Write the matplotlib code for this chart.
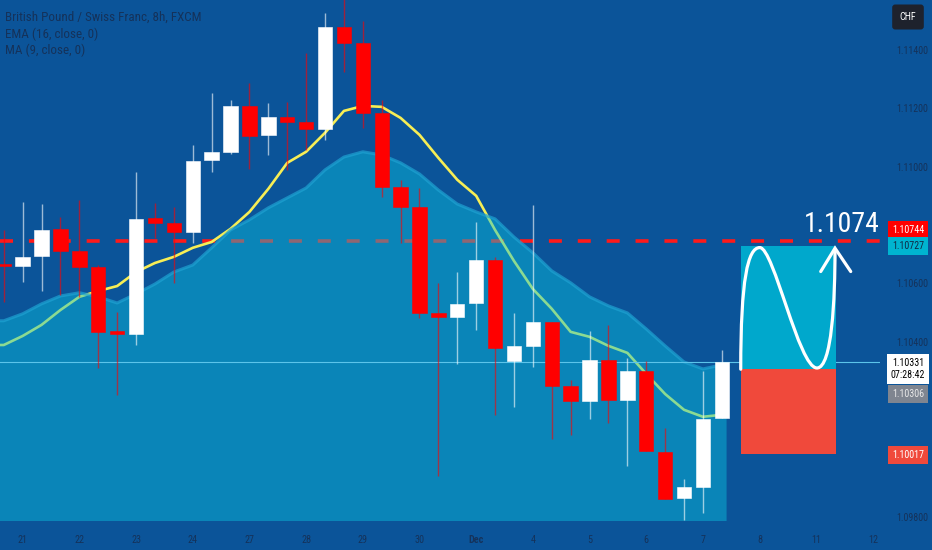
import numpy as np
import matplotlib.pyplot as plt
import matplotlib.font_manager as fm
from matplotlib.patches import Rectangle, PathPatch
from matplotlib.path import Path

# GBP/CHF 8h candles
opens = [1.10667, 1.10660, 1.10694, 1.10787, 1.10711, 1.10657, 1.10437, 1.10427, 1.10824, 1.10807,
         1.10776, 1.11023, 1.11051, 1.11208, 1.11109, 1.11170, 1.11153, 1.11129, 1.11479, 1.11424,
         1.11184, 1.10931, 1.10862, 1.10499, 1.10485, 1.10533, 1.10681, 1.10335, 1.10386, 1.10468,
         1.10249, 1.10197, 1.10338, 1.10201, 1.10300, 1.10023, 1.09865, 1.09903, 1.10139]
highs = [1.10783, 1.10879, 1.10872, 1.10828, 1.10886, 1.10663, 1.10502, 1.10982, 1.10876, 1.10862,
         1.11075, 1.11253, 1.11229, 1.11287, 1.11218, 1.11222, 1.11390, 1.11527, 1.11610, 1.11499,
         1.11229, 1.10955, 1.10927, 1.10602, 1.10639, 1.10811, 1.10691, 1.10499, 1.10869, 1.10468,
         1.10269, 1.10437, 1.10458, 1.10345, 1.10335, 1.10105, 1.09930, 1.10300, 1.10372]
lows = [1.10537, 1.10605, 1.10574, 1.10561, 1.10554, 1.10311, 1.10218, 1.10389, 1.10756, 1.10602,
        1.10739, 1.10982, 1.11044, 1.10992, 1.11040, 1.10989, 1.11057, 1.11092, 1.11325, 1.11133,
        1.10896, 1.10739, 1.10482, 1.09941, 1.10324, 1.10441, 1.10150, 1.10177, 1.10314, 1.10067,
        1.10081, 1.10136, 1.10122, 1.09975, 1.10026, 1.09862, 1.09790, 1.09814, 1.10139]
closes = [1.10660, 1.10691, 1.10783, 1.10711, 1.10657, 1.10434, 1.10427, 1.10821, 1.10807, 1.10776,
          1.11020, 1.11051, 1.11208, 1.11105, 1.11170, 1.11153, 1.11129, 1.11479, 1.11424, 1.11184,
          1.10931, 1.10862, 1.10499, 1.10485, 1.10530, 1.10681, 1.10379, 1.10386, 1.10468, 1.10249,
          1.10197, 1.10338, 1.10201, 1.10300, 1.10026, 1.09862, 1.09903, 1.10136, 1.10331]

ema16 = [1.10389, 1.10420, 1.10458, 1.10509, 1.10554, 1.10574, 1.10591, 1.10639, 1.10670, 1.10691,
         1.10722, 1.10742, 1.10787, 1.10845, 1.10924, 1.11013, 1.11051, 1.11116, 1.11191, 1.11208,
         1.11205, 1.11167, 1.11109, 1.11030, 1.10955, 1.10900, 1.10783, 1.10677, 1.10581, 1.10513,
         1.10434, 1.10417, 1.10386, 1.10362, 1.10290, 1.10221, 1.10167, 1.10143, 1.10150]
ma9 = [1.10472, 1.10496, 1.10530, 1.10557, 1.10568, 1.10554, 1.10533, 1.10564, 1.10598, 1.10639,
       1.10663, 1.10722, 1.10783, 1.10818, 1.10859, 1.10893, 1.10927, 1.10989, 1.11033, 1.11051,
       1.11040, 1.11013, 1.10975, 1.10920, 1.10872, 1.10845, 1.10821, 1.10759, 1.10705, 1.10643,
       1.10602, 1.10554, 1.10523, 1.10499, 1.10444, 1.10386, 1.10331, 1.10307, 1.10321]

day_pos = [1, 4, 7, 10, 13, 16, 19, 22, 25, 28, 31, 34, 37, 40, 43, 46]
day_labels = ['21', '22', '23', '24', '27', '28', '29', '30', 'Dec', '4', '5', '6', '7', '8', '11', '12']
# 1.100 / 1.102 / 1.108 sit behind the coloured price tags
price_ticks = [1.098, 1.104, 1.106, 1.110, 1.112, 1.114]

resistance = 1.10744
entry = 1.10306
target = 1.10727
stop = 1.10017
last_price = 1.10331

BG = '#0b5499'
AXIS_TXT = '#15325a'


# look for a narrow sans, the chart uses a condensed face
def find_narrow(bold=False):
    prefs = ['Roboto Condensed', 'Liberation Sans Narrow', 'Noto Sans Condensed',
             'Open Sans Condensed', 'DejaVu Sans Condensed', 'Noto Sans SemiCondensed']
    cands = []
    for f in fm.fontManager.ttflist:
        w = f.weight if isinstance(f.weight, int) else (700 if 'bold' in str(f.weight) else 400)
        if f.style != 'normal' or (w >= 600) != bold or w < 350 or w > 750:
            continue
        narrow = ('Condensed' in f.name or 'Narrow' in f.name or
                  str(f.stretch) in ('condensed', 'semi-condensed'))
        if narrow and 'Extra' not in f.name and 'Extra' not in f.fname:
            rank = prefs.index(f.name) if f.name in prefs else len(prefs)
            cands.append((rank, f.fname))
    if cands:
        return fm.FontProperties(fname=sorted(cands)[0][1])
    return fm.FontProperties(family='Liberation Sans', weight='bold' if bold else 'normal')


NARROW = find_narrow()
NARROW_B = find_narrow(bold=True)


def fp(size, bold=False):
    p = (NARROW_B if bold else NARROW).copy()
    p.set_size(size)
    return p


fig = plt.figure(figsize=(9.32, 5.5), dpi=100, facecolor=BG)
ax = fig.add_axes([0, 29 / 550, 880 / 932, 521 / 550], facecolor=BG)
x0, x1 = -0.2, 46.37
ax.set_xlim(x0, x1)
ax.set_ylim(1.09786, 1.11571)

idx = np.arange(len(opens))
o, h, l, c = map(np.array, (opens, highs, lows, closes))
up = c >= o

# resistance level
ax.axhline(resistance, color='#ff1a1a', lw=2.6, dashes=(3.6, 4.4), zorder=1)

# EMA line, then the MA area drawn over it
xe = np.r_[x0, idx]
ax.plot(xe, np.r_[ema16[0], ema16], color='#f7ee55', lw=1.9, zorder=2)
xa = np.r_[x0, idx, idx[-1] + 0.25]
ya = np.r_[ma9[0], ma9, ma9[-1]]
ax.fill_between(xa, ya, 1.0, color='#09c3de', alpha=0.45, lw=0, zorder=3)
ax.plot(xa, ya, color='#1fa2d2', lw=2.2, alpha=0.7, zorder=3)

# last price line
ax.axhline(last_price, color='#5cc4ea', lw=0.8, zorder=4)

# candles
cols = np.where(up, '#ffffff', '#ff0000')
ax.vlines(idx, l, h, colors=cols, lw=1.0, alpha=0.6, zorder=5)
body_lo = np.minimum(o, c)
body_h = np.maximum(np.abs(c - o), 0.00007)
ax.bar(idx, body_h, bottom=body_lo, width=0.76, color=cols, edgecolor=cols, lw=0.4, zorder=6)

# long position box
bx0, bx1 = 39.0, 44.04
ax.add_patch(Rectangle((bx0, entry), bx1 - bx0, target - entry, color='#00a8cc', lw=0, zorder=5))
ax.add_patch(Rectangle((bx0, stop), bx1 - bx0, entry - stop, color='#f0493b', lw=0, zorder=5))


# projected path drawn inside the box
def bp(fx, fy):
    return (bx0 + fx * (bx1 - bx0), entry + fy * (target - entry))


verts = [bp(0.0, 0.0), bp(0.0, 0.73), bp(0.074, 0.99), bp(0.2, 0.99),
         bp(0.347, 0.99), bp(0.61, 0.01), bp(0.8, 0.01),
         bp(0.958, 0.01), bp(0.99, 0.57), bp(0.99, 0.975)]
codes = [Path.MOVETO] + [Path.CURVE4] * 9
ax.add_patch(PathPatch(Path(verts, codes), fc='none', ec='white', lw=2.3, zorder=7,
                       capstyle='round'))
arrow = [bp(0.84, 0.795), bp(0.99, 0.985), bp(1.155, 0.795)]
ax.plot([p[0] for p in arrow], [p[1] for p in arrow], color='white', lw=2.3,
        solid_capstyle='round', solid_joinstyle='miter', zorder=7)

ax.text(44.35, resistance + 0.00032, '1.1074', color='white', fontproperties=fp(20),
        ha='center', va='baseline', zorder=8)

# axes styling
for s in ax.spines.values():
    s.set_visible(False)
ax.set_xticks(day_pos)
ax.set_xticklabels(day_labels)
ax.yaxis.tick_right()
ax.set_yticks(price_ticks)
ax.set_yticklabels([f'{p:.5f}' for p in price_ticks])
ax.tick_params(axis='x', length=0, pad=10, labelcolor=AXIS_TXT)
ax.tick_params(axis='y', length=0, pad=12, labelcolor=AXIS_TXT)
for t in ax.get_xticklabels():
    t.set_fontproperties(fp(7.3, bold=(t.get_text() == 'Dec')))
for t in ax.get_yticklabels():
    t.set_fontproperties(fp(7.2))

# header
fig.text(5 / 932, 1 - 17 / 550, 'British Pound / Swiss Franc, 8h, FXCM', color=AXIS_TXT,
         fontproperties=fp(9.4), va='center')
fig.text(5 / 932, 1 - 34 / 550, 'EMA (16, close, 0)', color=AXIS_TXT, fontproperties=fp(9.4),
         va='center')
fig.text(5 / 932, 1 - 50 / 550, 'MA (9, close, 0)', color=AXIS_TXT, fontproperties=fp(9.4),
         va='center')

# price scale labels
scale_labels = [
    ('CHF', 17, '#1e222d', 'white', 'round,pad=0.75,rounding_size=0.3'),
    ('1.10744', 230, '#ff0000', 'white', 'square,pad=0.36'),
    ('1.10727', 246, '#00b4d0', '#0f2a45', 'square,pad=0.36'),
    ('1.10331\n07:28:42', 369, 'white', 'black', 'square,pad=0.36'),
    ('1.10306', 394, '#7f8590', '#e8e8e8', 'square,pad=0.36'),
    ('1.10017', 455, '#f0493b', 'white', 'square,pad=0.36'),
]
for txt, ypx, fc, tc, bs in scale_labels:
    fig.text(908 / 932, 1 - ypx / 550, txt, color=tc, fontproperties=fp(7.2), ha='center',
             va='center', linespacing=1.3, bbox=dict(boxstyle=bs, fc=fc, ec='none'))

fig.savefig('out.png', dpi=100, facecolor=BG)
